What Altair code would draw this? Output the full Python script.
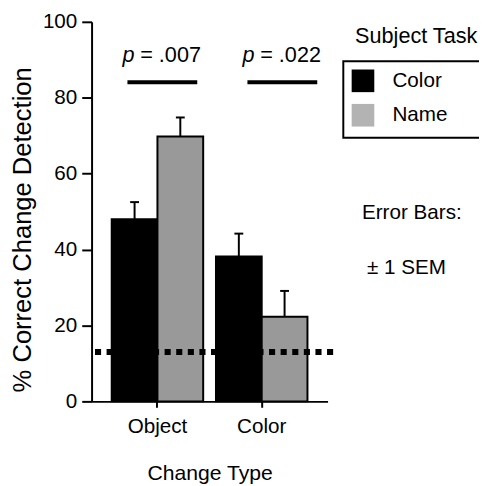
import altair as alt
import pandas as pd

FONT = "Liberation Sans"

categories = ["Object", "Color"]
tasks = ["Color", "Name"]
means_color_task = [48.0, 38.2]
means_name_task = [69.8, 22.3]
sem_color_task = [4.5, 6.0]
sem_name_task = [5.0, 6.8]
chance_level = [13.0]
p_labels = [".007", ".022"]
p_line_y = [84.1, 84.1]
p_text_y = [89.4, 89.4]
y_ticks = [0, 10, 20, 30, 40, 50, 60, 70, 80, 90, 100]
side_notes = ["Subject Task", "Error Bars:", "\u00b1 1 SEM"]

rows = []
for i, c in enumerate(categories):
    rows.append({"cat": c, "task": "Color", "val": means_color_task[i],
                 "upper": means_color_task[i] + sem_color_task[i]})
    rows.append({"cat": c, "task": "Name", "val": means_name_task[i],
                 "upper": means_name_task[i] + sem_name_task[i]})
df = pd.DataFrame(rows)
ann = pd.DataFrame({"cat": categories, "ptext": p_labels, "val": p_line_y, "ty": p_text_y})
chance_df = pd.DataFrame({"val": chance_level, "first": [categories[0]],
                          "last": [categories[-1]]})

YT = "% Correct Change Detection"

x_enc = alt.X("cat:N", sort=categories,
              scale=alt.Scale(domain=categories, paddingInner=0.1226, paddingOuter=0.193),
              axis=alt.Axis(title="Change Type", labelAngle=0, tickSize=6, tickWidth=2,
                            domainWidth=2, labelPadding=9, titlePadding=26,
                            labelFontSize=21, titleFontSize=21.5))
xoff = alt.XOffset("task:N", sort=tasks,
                   scale=alt.Scale(domain=tasks, paddingInner=0, paddingOuter=0))
y_axis = alt.Axis(values=y_ticks, labelExpr="datum.value % 20 == 0 ? datum.label : ''",
                  tickSize=10, tickWidth=2, domainWidth=2, labelPadding=5,
                  titlePadding=7, labelFontSize=21, titleFontSize=26, titleY=211)
y_scale = alt.Scale(domain=[0, 100], nice=False)

base = alt.Chart(df)

bars = base.mark_bar(stroke="black", strokeWidth=2).encode(
    x=x_enc, xOffset=xoff,
    y=alt.Y("val:Q", scale=y_scale, axis=y_axis, title=YT),
    fill=alt.Fill("task:N", sort=tasks,
                  scale=alt.Scale(range=["#000000", "#999999"]), legend=None),
)

stems = base.mark_rule(color="black", strokeWidth=2).encode(
    x=x_enc, xOffset=xoff, y=alt.Y("val:Q", title=YT), y2="upper:Q")
caps = base.mark_tick(color="black", thickness=2, size=9, opacity=1).encode(
    x=x_enc, xOffset=xoff, y=alt.Y("upper:Q", title=YT))

legend_layer = base.mark_square(size=0, filled=True).encode(
    x=x_enc, xOffset=xoff, y=alt.Y("val:Q", title=YT),
    color=alt.Color("task:N", sort=tasks,
                    scale=alt.Scale(domain=tasks, range=["#000000", "#b3b3b3"]),
                    legend=alt.Legend(title=None, orient="none", legendX=256, legendY=40,
                                      padding=8, symbolType="square",
                                      symbolSize=530, symbolOpacity=1, symbolStrokeWidth=0,
                                      labelFontSize=21, labelOffset=18, rowPadding=11,
                                      labelColor="black", labelFont=FONT)),
)

# frame of the legend, running off the right edge as in the original
legend_frame = alt.Chart(pd.DataFrame({"k": [0]})).mark_rect(
    fill="white", fillOpacity=0, stroke="black", strokeWidth=2).encode(
    x=alt.value(256), x2=alt.value(420), y=alt.value(40), y2=alt.value(118))

# chance-level dotted line, reaching a little past both bar groups
chance = alt.Chart(chance_df).mark_rule(color="black", strokeWidth=6, strokeDash=[6.2, 5.6],
                                        strokeCap="butt", xOffset=-17, x2Offset=30).encode(
    x=alt.X("first:N", sort=categories, bandPosition=0),
    x2=alt.X2("last:N", bandPosition=1),
    y=alt.Y("val:Q", title=YT))

# band position of the start of each significance line (style, per group)
line_start = {"Object": 0.172, "Color": 0.344}
ann_layers = []
for c in categories:
    b0 = line_start[c]
    a = alt.Chart(ann).transform_filter(alt.datum.cat == c)
    xa = alt.X("cat:N", sort=categories, bandPosition=b0)
    ann_layers.append(a.mark_rule(color="black", strokeWidth=4, x2Offset=71).encode(
        x=xa, x2=alt.X2("cat:N", bandPosition=b0), y=alt.Y("val:Q", title=YT)))
    ann_layers.append(a.mark_text(text="p", fontStyle="italic", fontSize=22, font=FONT,
                                  align="left", baseline="alphabetic", dx=-5, color="black").encode(
        x=xa, y=alt.Y("ty:Q", title=YT)))
    ann_layers.append(a.mark_text(fontSize=22, font=FONT, align="left", baseline="alphabetic",
                                  dx=13, color="black").encode(
        x=xa, y=alt.Y("ty:Q", title=YT),
        text=alt.Text("label:N")).transform_calculate(label="'= ' + datum.ptext"))

note_pos = [(268, 15), (275, 195), (280, 250)]
note_size = [22, 21, 21]
note_layers = []
for t, (nx, ny), fs in zip(side_notes, note_pos, note_size):
    note_layers.append(alt.Chart(pd.DataFrame({"t": [t]})).mark_text(
        fontSize=fs, font=FONT, align="left", baseline="middle", color="black").encode(
        text="t:N", x=alt.value(nx), y=alt.value(ny)))

chart = alt.layer(bars, stems, caps, legend_layer, legend_frame, chance,
                  *ann_layers, *note_layers).properties(
    width=240, height=386,
    padding={"left": 85, "top": 10, "right": 154, "bottom": 82},
    autosize=alt.AutoSizeParams(type="none"),
).configure_view(stroke=None).configure_axis(
    grid=False, domainColor="black", tickColor="black", labelColor="black",
    titleColor="black", labelFont=FONT, titleFont=FONT, titleFontWeight="normal",
)

chart.save("out.html", embed_options={"renderer": "svg", "actions": False})
